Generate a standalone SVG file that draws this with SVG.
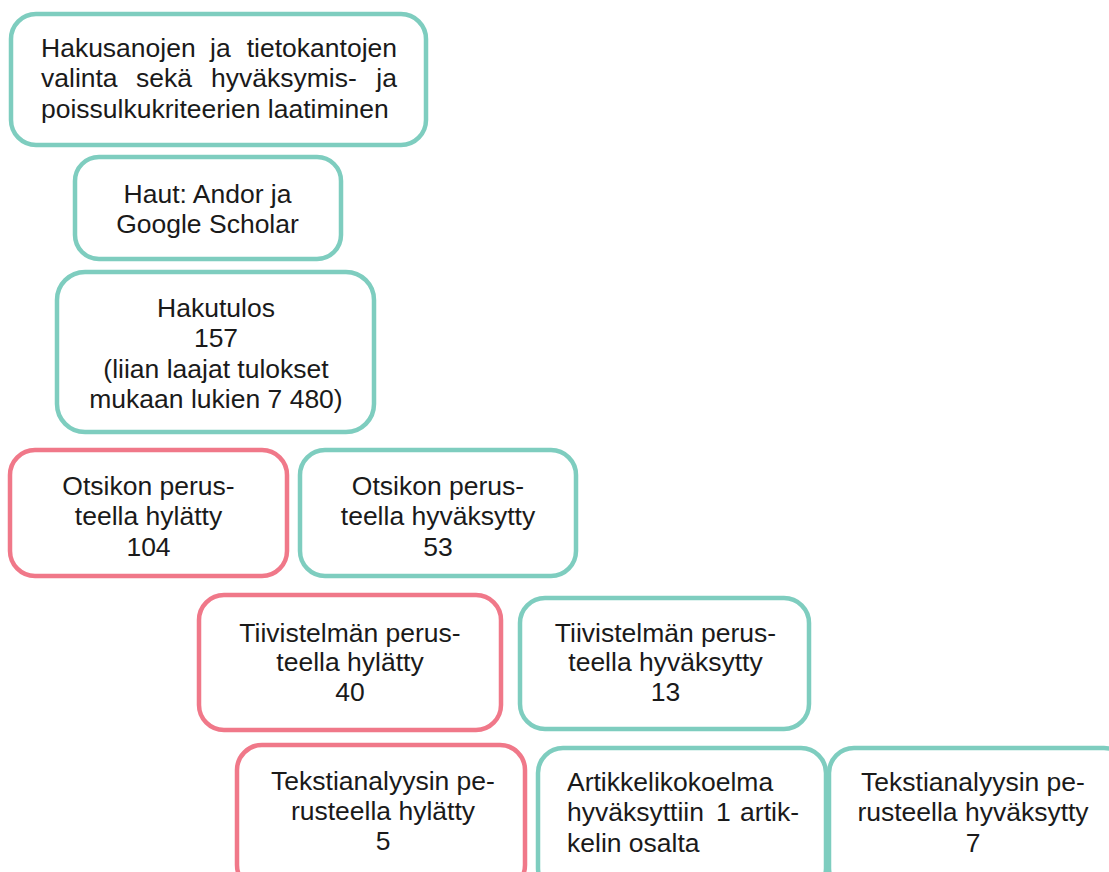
<svg xmlns="http://www.w3.org/2000/svg" width="1109" height="872" viewBox="0 0 1109 872">
  <style>
    .box { fill: #ffffff; stroke-width: 4.5; }
    .ok { stroke: #7ecdbf; }
    .no { stroke: #f07889; }
    text { font-family: "Liberation Sans", Arial, sans-serif; font-size: 26.5px; fill: #1a1a1a; }
    .c { text-anchor: middle; }
    .e { text-anchor: end; }
  </style>
  <rect width="1109" height="872" fill="#ffffff"/>

  <g id="connectors"></g>

  <g id="n-criteria">
    <rect class="box ok" x="11" y="14" width="415" height="131" rx="25"/>
    <text x="41" y="57">Hakusanojen</text>
    <text x="210" y="57">ja</text>
    <text class="e" x="397" y="57">tietokantojen</text>
    <text x="41" y="87">valinta</text>
    <text x="136" y="87">sekä</text>
    <text x="211" y="87">hyväksymis-</text>
    <text class="e" x="397" y="87">ja</text>
    <text x="41" y="118">poissulkukriteerien laatiminen</text>
  </g>

  <g id="n-search">
    <rect class="box ok" x="75" y="157" width="266" height="102" rx="24"/>
    <text class="c" x="207.5" y="203">Haut: Andor ja</text>
    <text class="c" x="207.5" y="233">Google Scholar</text>
  </g>

  <g id="n-result">
    <rect class="box ok" x="57" y="272" width="317" height="160" rx="28"/>
    <text class="c" x="216" y="317">Hakutulos</text>
    <text class="c" x="216" y="347">157</text>
    <text class="c" x="216" y="378">(liian laajat tulokset</text>
    <text class="c" x="216" y="408">mukaan lukien 7 480)</text>
  </g>

  <g id="n-title-rejected">
    <rect class="box no" x="10" y="450" width="277" height="126" rx="25"/>
    <text class="c" x="148.5" y="495">Otsikon perus-</text>
    <text class="c" x="148.5" y="525">teella hylätty</text>
    <text class="c" x="148.5" y="556">104</text>
  </g>

  <g id="n-title-accepted">
    <rect class="box ok" x="300" y="450" width="276" height="126" rx="25"/>
    <text class="c" x="438" y="495">Otsikon perus-</text>
    <text class="c" x="438" y="525">teella hyväksytty</text>
    <text class="c" x="438" y="556">53</text>
  </g>

  <g id="n-abstract-rejected">
    <rect class="box no" x="199" y="595" width="302" height="135" rx="25"/>
    <text class="c" x="350" y="642">Tiivistelmän perus-</text>
    <text class="c" x="350" y="671">teella hylätty</text>
    <text class="c" x="350" y="701">40</text>
  </g>

  <g id="n-abstract-accepted">
    <rect class="box ok" x="520" y="598" width="289" height="131" rx="25"/>
    <text class="c" x="665.5" y="642">Tiivistelmän perus-</text>
    <text class="c" x="665.5" y="671">teella hyväksytty</text>
    <text class="c" x="665.5" y="701">13</text>
  </g>

  <g id="n-text-rejected">
    <rect class="box no" x="237" y="745" width="288" height="145" rx="25"/>
    <text class="c" x="383" y="790">Tekstianalyysin pe-</text>
    <text class="c" x="383" y="820">rusteella hylätty</text>
    <text class="c" x="383" y="850">5</text>
  </g>

  <g id="n-collection">
    <rect class="box ok" x="538" y="748" width="288" height="145" rx="25"/>
    <text x="567" y="791">Artikkelikokoelma</text>
    <text x="567" y="821">hyväksyttiin</text>
    <text x="716" y="821">1</text>
    <text class="e" x="799" y="821">artik-</text>
    <text x="567" y="852">kelin osalta</text>
  </g>

  <g id="n-text-accepted">
    <rect class="box ok" x="829" y="748" width="300" height="145" rx="25"/>
    <text class="c" x="973" y="791">Tekstianalyysin pe-</text>
    <text class="c" x="973" y="821">rusteella hyväksytty</text>
    <text class="c" x="973" y="852">7</text>
  </g>
</svg>
